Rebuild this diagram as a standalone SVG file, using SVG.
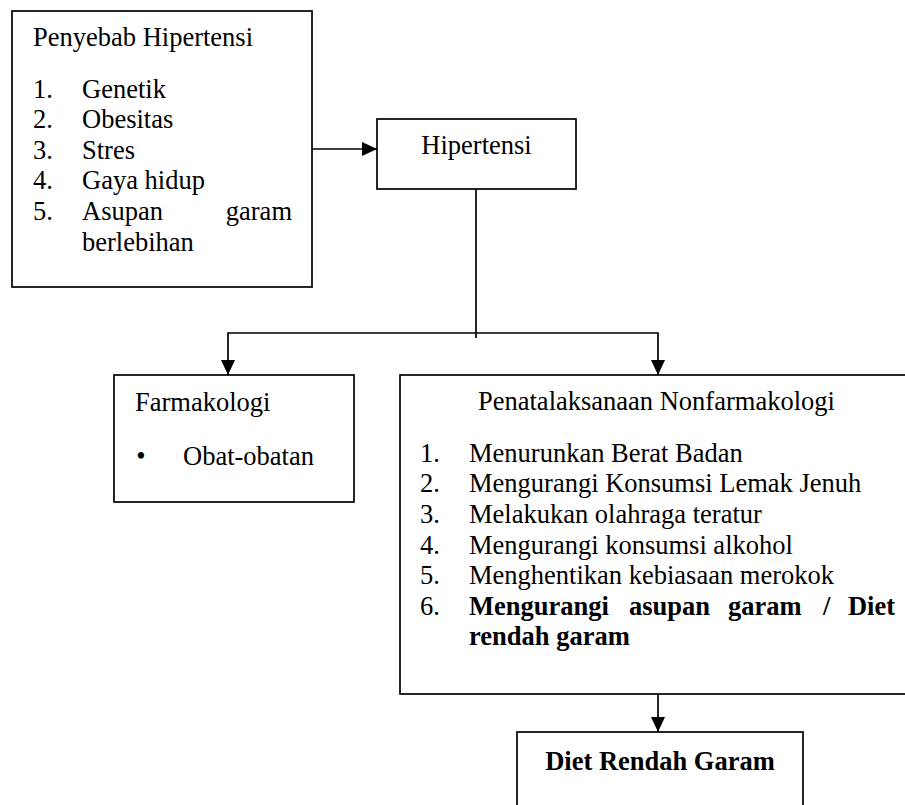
<svg xmlns="http://www.w3.org/2000/svg" width="905" height="805" viewBox="0 0 905 805">
<style>
.box{fill:#fff;stroke:#000;stroke-width:1.7}
.t{font-family:"Liberation Serif","Times New Roman",serif;font-size:26.5px;fill:#000}
.b{font-weight:bold}
.c{fill:none;stroke:#000;stroke-width:1.7}
</style>
<defs>
<marker id="arr" markerUnits="userSpaceOnUse" markerWidth="16" markerHeight="14" refX="15" refY="7" orient="auto">
<path d="M0,0 L15,7 L0,14 Z" fill="#000"/>
</marker>
</defs>
<rect width="905" height="805" fill="#fff"/>
<g id="connectors">
<line class="c" x1="312" y1="149" x2="377" y2="149" marker-end="url(#arr)"/>
<line class="c" x1="476" y1="189" x2="476" y2="338"/>
<polyline class="c" points="228,333 658,333 658,375" marker-end="url(#arr)"/>
<line class="c" x1="228" y1="332.2" x2="228" y2="375" marker-end="url(#arr)"/>
<line class="c" x1="658" y1="694" x2="658" y2="732" marker-end="url(#arr)"/>
</g>
<g id="penyebab">
<rect class="box" x="12" y="11" width="300" height="276"/>
<text class="t" x="33" y="46">Penyebab Hipertensi</text>
<text class="t" x="33" y="97.5">1.</text><text class="t" x="82" y="97.5">Genetik</text>
<text class="t" x="33" y="128">2.</text><text class="t" x="82" y="128">Obesitas</text>
<text class="t" x="33" y="158.7">3.</text><text class="t" x="82" y="158.7">Stres</text>
<text class="t" x="33" y="189.3">4.</text><text class="t" x="82" y="189.3">Gaya hidup</text>
<text class="t" x="33" y="220">5.</text><text class="t" x="82" y="220">Asupan</text><text class="t" x="292" y="220" text-anchor="end">garam</text>
<text class="t" x="82" y="250.5">berlebihan</text>
</g>
<g id="hipertensi">
<rect class="box" x="377" y="119" width="199" height="70"/>
<text class="t" x="476.5" y="154" text-anchor="middle">Hipertensi</text>
</g>
<g id="farmakologi">
<rect class="box" x="114" y="375" width="240" height="127"/>
<text class="t" x="135" y="410.5">Farmakologi</text>
<text class="t" x="141" y="465" text-anchor="middle">•</text>
<text class="t" x="183" y="465">Obat-obatan</text>
</g>
<g id="nonfarmakologi">
<rect class="box" x="400" y="375" width="515" height="319"/>
<text class="t" x="478" y="410">Penatalaksanaan Nonfarmakologi</text>
<text class="t" x="420" y="461.7">1.</text><text class="t" x="469" y="461.7">Menurunkan Berat Badan</text>
<text class="t" x="420" y="492.3">2.</text><text class="t" x="469" y="492.3">Mengurangi Konsumsi Lemak Jenuh</text>
<text class="t" x="420" y="522.9">3.</text><text class="t" x="469" y="522.9">Melakukan olahraga teratur</text>
<text class="t" x="420" y="553.5">4.</text><text class="t" x="469" y="553.5">Mengurangi konsumsi alkohol</text>
<text class="t" x="420" y="584.1">5.</text><text class="t" x="469" y="584.1">Menghentikan kebiasaan merokok</text>
<text class="t" x="420" y="614.7">6.</text>
<text class="t b" x="469" y="614.7">Mengurangi</text>
<text class="t b" x="629" y="614.7">asupan</text>
<text class="t b" x="728" y="614.7">garam</text>
<text class="t b" x="823" y="614.7">/</text>
<text class="t b" x="895" y="614.7" text-anchor="end">Diet</text>
<text class="t b" x="469" y="645.3">rendah garam</text>
</g>
<g id="diet">
<rect class="box" x="517" y="732" width="286" height="90"/>
<text class="t b" x="660" y="770" text-anchor="middle">Diet Rendah Garam</text>
</g>
</svg>
